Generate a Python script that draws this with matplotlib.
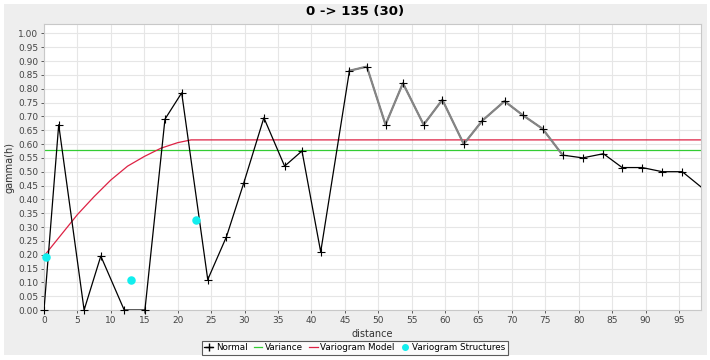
import matplotlib
matplotlib.use("Agg")
import matplotlib.pyplot as plt
from matplotlib.patches import Rectangle
from matplotlib.lines import Line2D

dist = [0.0, 2.2, 6.0, 8.5, 12.0, 15.1, 18.1, 20.6, 24.5, 27.3, 29.9, 32.9, 36.0,
        38.6, 41.4, 45.7, 48.3, 51.1, 53.7, 56.8, 59.6, 62.8, 65.6, 68.9, 71.6,
        74.6, 77.6, 80.6, 83.7, 86.5, 89.5, 92.5, 95.5, 98.3]
gamma = [0.0, 0.67, 0.0, 0.195, 0.0, 0.0, 0.69, 0.785, 0.11, 0.265, 0.46, 0.695, 0.52,
         0.575, 0.21, 0.865, 0.88, 0.67, 0.82, 0.67, 0.76, 0.60, 0.685, 0.755, 0.705,
         0.655, 0.56, 0.55, 0.565, 0.515, 0.515, 0.50, 0.50, 0.445]

variance = 0.58

model_d = [0.0, 2.5, 5.0, 7.5, 10.0, 12.5, 15.0, 17.5, 20.0, 22.0, 98.3]
model_g = [0.195, 0.27, 0.345, 0.41, 0.47, 0.52, 0.555, 0.585, 0.605, 0.615, 0.615]

struct_d = [0.3, 13.0, 22.8]
struct_g = [0.19, 0.11, 0.325]

fig = plt.figure(figsize=(7.1, 3.6), dpi=100)
fig.patch.set_facecolor("white")
fig.patches.append(Rectangle((4 / 710, 5 / 360), 703 / 710, 351 / 360,
                             transform=fig.transFigure, facecolor="#eeeeee",
                             edgecolor="none", zorder=-10))

ax = fig.add_axes([44 / 710, 1 - 310 / 360, 657 / 710, 286 / 360])
ax.set_facecolor("white")

ax.set_xlim(0, 98.3)
ax.set_ylim(0, 1.034)
ax.set_xticks(range(0, 100, 5))
ax.set_yticks([i * 0.05 for i in range(21)])
ax.set_yticklabels([f"{i * 0.05:.2f}" for i in range(21)])
ax.grid(True, color="#e6e6e6", linewidth=0.8)
ax.set_axisbelow(True)
ax.tick_params(labelsize=6.5, colors="#444444", length=2, width=0.6, pad=2)
for s in ax.spines.values():
    s.set_color("#c8c8c8")
    s.set_linewidth(0.8)

ax.axhline(variance, color="#33cc33", linewidth=0.9, zorder=2)
ax.plot(model_d, model_g, color="#dd2244", linewidth=0.9, zorder=2)

ax.plot(dist, gamma, color="black", linewidth=0.9, zorder=3)
# highlighted stretch of the curve
i0, i1 = dist.index(45.7), dist.index(77.6)
ax.plot(dist[i0:i1 + 1], gamma[i0:i1 + 1], color="#858585", linewidth=1.6, zorder=3)
ax.plot(dist[:-1], gamma[:-1], linestyle="none", marker="+", color="black",
        markersize=5.5, markeredgewidth=0.8, zorder=4, clip_on=False)

ax.scatter(struct_d, struct_g, s=26, color="#11eeee", zorder=5, clip_on=False)

ax.set_xlabel("distance", fontsize=7, color="#333333", labelpad=3)
ax.set_ylabel("gamma(h)", fontsize=7, color="#333333", labelpad=3)
fig.text(0.5, 1 - 11 / 360, "0 -> 135 (30)", ha="center", va="center",
         fontsize=9.5, fontweight="bold")

handles = [
    Line2D([], [], color="black", marker="+", linewidth=0.9, markersize=5.5),
    Line2D([], [], color="#33cc33", linewidth=0.9),
    Line2D([], [], color="#dd2244", linewidth=0.9),
    Line2D([], [], color="#11eeee", marker="o", linestyle="none", markersize=4),
]
labels = ["Normal", "Variance", "Variogram Model", "Variogram Structures"]
leg = fig.legend(handles, labels, loc="center", bbox_to_anchor=(0.5, 1 - 348 / 360),
                 ncol=4, fontsize=6.3, frameon=True, fancybox=False,
                 handlelength=1.0, handletextpad=0.3, columnspacing=0.7,
                 borderpad=0.25, borderaxespad=0)
leg.get_frame().set_edgecolor("#333333")
leg.get_frame().set_linewidth(0.8)

fig.savefig("out.png", dpi=100)
